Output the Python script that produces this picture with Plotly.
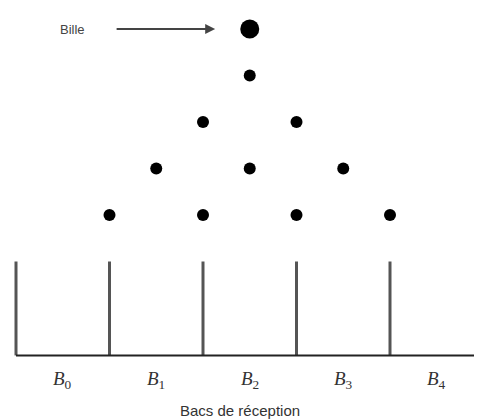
import plotly.graph_objects as go

# Galton board: peg positions (bin units), rows counted from bottom
peg_x = [2.5, 2, 3, 1.5, 2.5, 3.5, 1, 2, 3, 4]
peg_y = [4, 3, 3, 2, 2, 2, 1, 1, 1, 1]
ball_x = [2.5]
ball_y = [5]
wall_x = [0, 1, 2, 3, 4]
bin_labels = ["<i>B</i><sub>0</sub>", "<i>B</i><sub>1</sub>", "<i>B</i><sub>2</sub>",
              "<i>B</i><sub>3</sub>", "<i>B</i><sub>4</sub>"]
bin_centers = [0.5, 1.5, 2.5, 3.5, 4.5]
axis_title = "Bacs de réception"
ball_label = "Bille"

fig = go.Figure()

# walls
for wx in wall_x:
    fig.add_trace(go.Scatter(x=[wx, wx], y=[0, -2.02], mode="lines",
                             line=dict(color="#555555", width=3), hoverinfo="skip",
                             showlegend=False))
# floor
fig.add_trace(go.Scatter(x=[0, 5.2], y=[-2.02, -2.02], mode="lines",
                         line=dict(color="#222222", width=2), hoverinfo="skip",
                         showlegend=False))
# pegs
fig.add_trace(go.Scatter(x=peg_x, y=peg_y, mode="markers",
                         marker=dict(color="black", size=12), showlegend=False))
# ball
fig.add_trace(go.Scatter(x=ball_x, y=ball_y, mode="markers",
                         marker=dict(color="black", size=19), showlegend=False))

# bin labels
for cx, lab in zip(bin_centers, bin_labels):
    fig.add_annotation(x=cx, y=-2.55, text=lab, showarrow=False,
                       font=dict(family="Liberation Serif", size=19, color="#333333"))

fig.add_annotation(x=2.4, y=-3.2, text=axis_title, showarrow=False,
                   font=dict(family="Liberation Sans", size=15, color="#333333"))

fig.add_annotation(x=0.6, y=5, text=ball_label, showarrow=False,
                   font=dict(family="Liberation Sans", size=13, color="#444444"))
# arrow
fig.add_annotation(x=2.13, y=5, ax=1.06, ay=5, xref="x", yref="y", axref="x", ayref="y",
                   text="", showarrow=True, arrowhead=2, arrowsize=1, arrowwidth=2,
                   arrowcolor="#444444")

fig.update_xaxes(range=[-0.0856, 4.984], visible=False, fixedrange=True)
fig.update_yaxes(range=[-3.409, 5.452], visible=False, fixedrange=True)
fig.update_layout(width=474, height=412, margin=dict(l=0, r=0, t=0, b=0),
                  plot_bgcolor="white", paper_bgcolor="white")

fig.write_html("out.html")
